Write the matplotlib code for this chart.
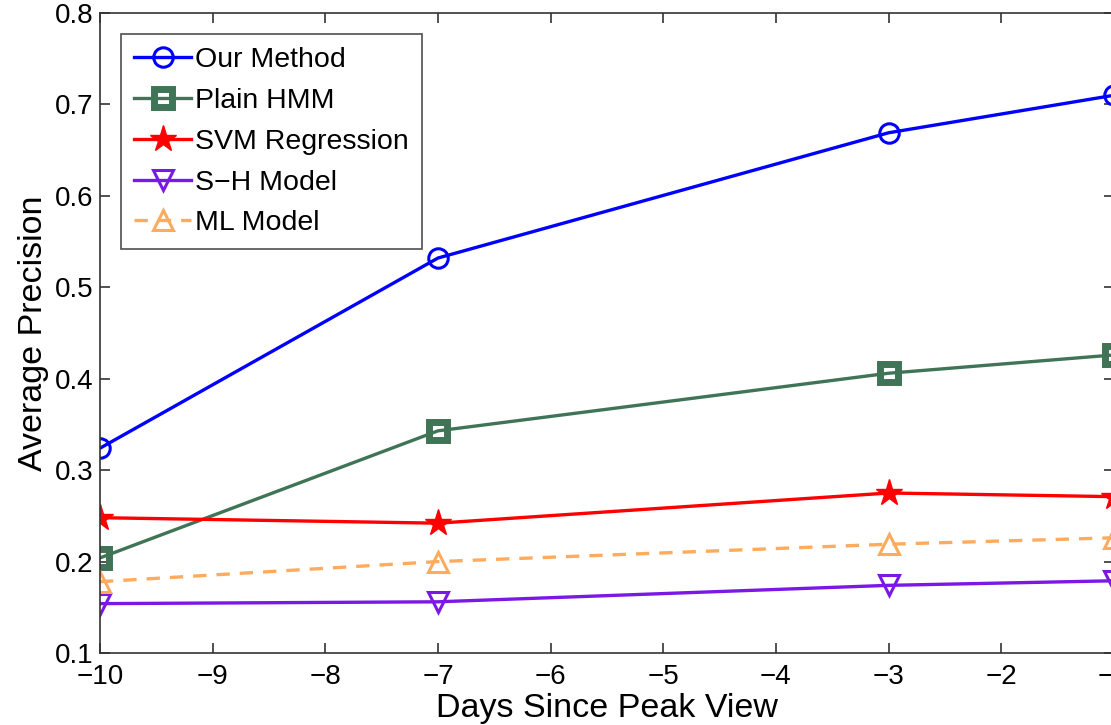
import matplotlib.pyplot as plt

plt.rcParams['font.family'] = ['Liberation Sans', 'DejaVu Sans']

days = [-10, -7, -3, -1]
our_method = [0.324, 0.532, 0.669, 0.710]
plain_hmm = [0.204, 0.343, 0.406, 0.426]
svm_reg = [0.248, 0.242, 0.275, 0.271]
sh_model = [0.154, 0.156, 0.174, 0.179]
ml_model = [0.178, 0.200, 0.219, 0.226]

fig = plt.figure(figsize=(11.11, 7.25), dpi=100)
ax = fig.add_axes([0.09, 0.0993, 0.9127, 0.8828])

lw = 2.4
ax.plot(days, our_method, color="#0000ff", lw=lw, marker="o", ms=14,
        mfc="none", mew=2.2, label="Our Method")
ax.plot(days, plain_hmm, color="#3f7456", lw=lw, marker="s", ms=13,
        mfc="none", mew=5, label="Plain HMM")
ax.plot(days, svm_reg, color="#ff0000", lw=lw, marker="*", ms=20,
        label="SVM Regression")
ax.plot(days, sh_model, color="#7b18e6", lw=lw, marker="v", ms=15,
        mfc="none", mew=2.2, label="S\u2212H Model")
ax.plot(days, ml_model, color="#ffab5e", lw=lw, ls=(0, (4, 3)), marker="^",
        ms=15, mfc="none", mew=2.2, label="ML Model")

ax.set_xlim(-10, -1)
ax.set_ylim(0.1, 0.8)
ax.set_xticks(range(-10, 0))
ax.set_xticklabels(["\u2212%d" % (-d) for d in range(-10, 0)])
ax.set_yticks([0.1, 0.2, 0.3, 0.4, 0.5, 0.6, 0.7, 0.8])
ax.tick_params(direction="in", top=True, right=True, length=7, width=1.2,
               labelsize=20, color="#333333")
ax.tick_params(axis="x", pad=8)
ax.tick_params(axis="y", pad=5)
for s in ax.spines.values():
    s.set_linewidth(1.2)
    s.set_color("#333333")

ax.set_xlabel("Days Since Peak View", fontsize=24.5, labelpad=2)
ax.set_ylabel("Average Precision", fontsize=24.5, labelpad=4)

leg = ax.legend(loc="upper left", fontsize=20.5, handlelength=2.0,
                handletextpad=0.15, labelspacing=0.52, borderaxespad=0.75,
                fancybox=False, edgecolor="#222222", borderpad=0.45)
leg.get_frame().set_linewidth(1.2)

fig.savefig("out.png", dpi=100)
